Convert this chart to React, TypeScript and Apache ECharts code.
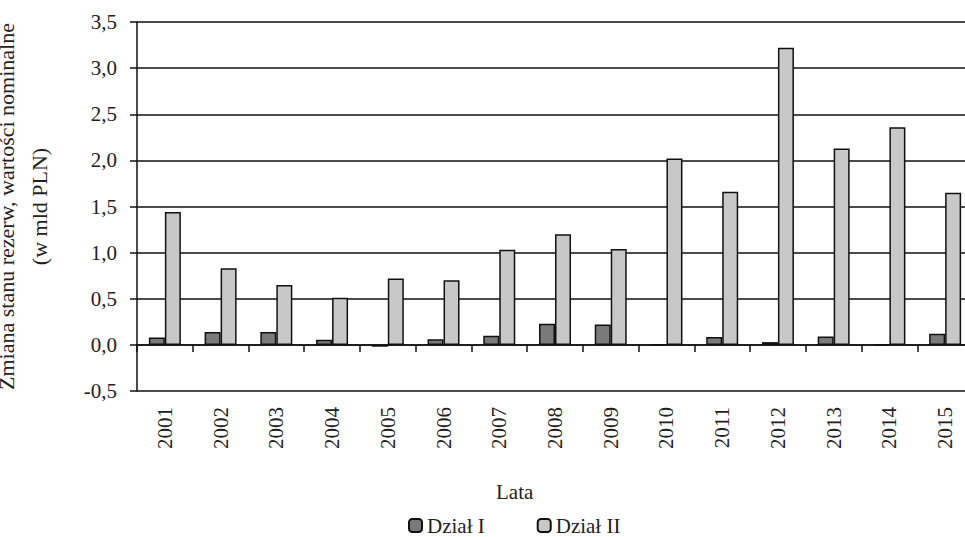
import React, { useEffect, useRef } from "react";
import * as echarts from "echarts";

const years = ["2001","2002","2003","2004","2005","2006","2007","2008","2009","2010","2011","2012","2013","2014","2015"];
const dzialI = [0.08, 0.14, 0.14, 0.055, -0.02, 0.06, 0.10, 0.23, 0.22, 0.005, 0.085, 0.03, 0.09, 0.005, 0.12];
const dzialII = [1.44, 0.83, 0.65, 0.51, 0.72, 0.70, 1.03, 1.20, 1.04, 2.02, 1.66, 3.22, 2.13, 2.36, 1.65];
const seriesNames = ["Dział I", "Dział II"];
const yTitle = "Zmiana stanu rezerw, wartości nominalne\n(w mld PLN)";
const xTitle = "Lata";

const FONT = '"Liberation Serif", "Times New Roman", serif';
const TXT = "#222";

export default function App() {
  const ref = useRef<HTMLDivElement>(null);
  useEffect(() => {
    const chart = echarts.init(ref.current!, null, { renderer: "svg" });
    chart.setOption({
      animation: false,
      textStyle: { fontFamily: FONT, color: TXT },
      grid: { left: 137, top: 22, right: -8, bottom: 146, outerBoundsMode: "none", containLabel: false },
      legend: {
        left: 403,
        top: 510,
        itemWidth: 13,
        itemHeight: 13,
        itemGap: 52,
        textStyle: { fontFamily: FONT, fontSize: 21, color: TXT },
        data: seriesNames,
      },
      graphic: [
        {
          type: "text",
          left: 496,
          top: 481,
          style: { text: xTitle, font: `21px ${FONT}`, fill: TXT },
        },
      ],
      xAxis: [
        {
          type: "category",
          data: years,
          axisLine: { onZero: true, lineStyle: { color: "#111", width: 1.5 } },
          axisTick: { show: true, length: 7, inside: false, lineStyle: { color: "#111", width: 1.5 } },
          axisLabel: { show: false },
        },
        {
          type: "category",
          data: years,
          position: "bottom",
          axisLine: { show: false, onZero: false },
          axisTick: { show: false },
          axisLabel: {
            rotate: 90,
            margin: 16,
            fontSize: 21,
            fontFamily: FONT,
            color: TXT,
          },
        },
      ],
      yAxis: {
        type: "value",
        min: -0.5,
        max: 3.5,
        interval: 0.5,
        name: yTitle,
        nameLocation: "middle",
        nameRotate: 90,
        nameGap: 81,
        nameTextStyle: { fontSize: 22, fontFamily: FONT, color: TXT, lineHeight: 33 },
        axisLine: { show: true, lineStyle: { color: "#111", width: 1.5 } },
        axisTick: { show: true, length: 7, lineStyle: { color: "#111", width: 1.5 } },
        axisLabel: {
          margin: 20,
          fontSize: 21,
          fontFamily: FONT,
          color: TXT,
          formatter: (v: number) => v.toFixed(1).replace(".", ","),
        },
        splitLine: { show: true, lineStyle: { color: "#111", width: 1.5 } },
      },
      series: [
        {
          name: seriesNames[0],
          type: "bar",
          data: dzialI,
          barWidth: 16,
          barGap: "0%",
          itemStyle: { color: "#7a7a7a", borderColor: "#111", borderWidth: 1.5 },
        },
        {
          name: seriesNames[1],
          type: "bar",
          data: dzialII,
          barWidth: 16,
          barGap: "0%",
          itemStyle: { color: "#c8c8c8", borderColor: "#111", borderWidth: 1.5 },
        },
      ],
    });
    return () => chart.dispose();
  }, []);
  return <div ref={ref} style={{ position: "absolute", left: 0, top: 0, width: 965, height: 537 }} />;
}
